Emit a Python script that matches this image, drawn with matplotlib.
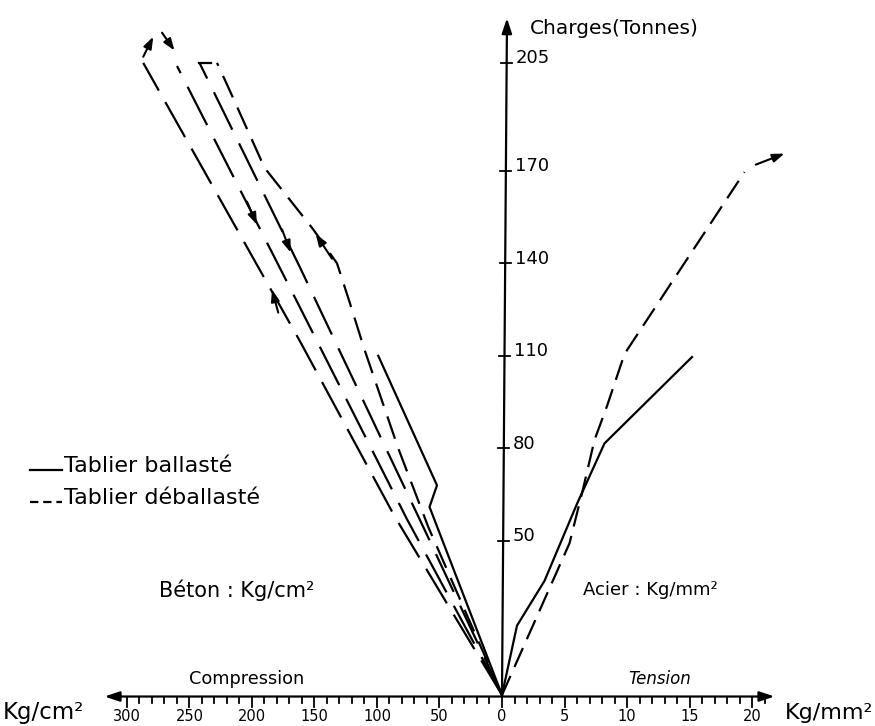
import matplotlib
matplotlib.use("Agg")
import matplotlib.pyplot as plt
import numpy as np

plt.rcParams['font.family'] = ['DejaVu Sans']
plt.rcParams['lines.scale_dashes'] = False

# ---------------- data ----------------
# Left side: concrete compression (kg/cm2) vs load (tonnes), unballasted deck (dashed)
A_load = [0, 58, 115, 205]
A_comp = [0, 86, 162, 287]
B_load = [0, 57, 126, 204]
B_comp = [0, 76, 162, 260]
C_load = [0, 54.5, 139, 205]
C_comp = [0, 63, 162, 242]
D_load = [0, 54.5, 80, 112, 127.5, 140, 151, 171, 198, 205]
D_comp = [0, 59, 83, 110, 122, 132, 151, 190, 220, 228]
# Left side, ballasted deck (solid)
S_load = [0, 61, 68, 110]
S_comp = [0, 58, 52, 99]
# Right side: steel tension (kg/mm2) vs load
Rd_load = [0, 49.2, 67.1, 82.7, 93.7, 110.6, 169.6]
Rd_tens = [0, 5.4, 6.5, 7.4, 8.4, 9.8, 19.4]
Rs_load = [0, 22.5, 37, 62, 81.6, 109.6]
Rs_tens = [0, 1.2, 3.4, 6.0, 8.2, 15.2]

y_ticks = [50, 80, 110, 140, 170, 205]
left_ticks = [300, 250, 200, 150, 100, 50, 0]
right_ticks = [5, 10, 15, 20]

LSCALE = 0.1  # drawing units per kg/cm2 on the compression side

fig = plt.figure(figsize=(8.75, 7.26), dpi=100)
ax = fig.add_axes([0, 0, 1, 1])
ax.set_xlim(-40.16, 29.84)
ax.set_ylim(-10.06, 225.4)
ax.axis('off')

def L(c):
    return [-v * LSCALE for v in c]

lw = 1.6
k = 'black'
ax.plot(L(A_comp), A_load, color=k, lw=lw, dashes=(29, 9.5))
ax.plot(L(B_comp), B_load, color=k, lw=lw, dashes=(31, 11))
ax.plot(L(C_comp), C_load, color=k, lw=lw, dashes=(30, 11))
ax.plot(L(D_comp), D_load, color=k, lw=lw, dashes=(17, 8))
ax.plot([-C_comp[-1] * LSCALE, -D_comp[-1] * LSCALE - 0.5], [C_load[-1], C_load[-1]], color=k, lw=lw)
ax.plot(L(S_comp), S_load, color=k, lw=lw)
ax.plot(Rd_tens, Rd_load, color=k, lw=lw, dashes=(15, 7))
ax.plot(Rs_tens, Rs_load, color=k, lw=lw)

ap = dict(arrowstyle='-|>,head_length=0.7,head_width=0.25', color=k, lw=1.5,
          shrinkA=0, shrinkB=0)
# arrows on the curves
ax.annotate('', xy=(-18.4, 131.5), xytext=(-17.9, 124), arrowprops=ap)
ax.annotate('', xy=(-19.6, 152.5), xytext=(-20.4, 160), arrowprops=ap)
ax.annotate('', xy=(-16.9, 143.5), xytext=(-17.6, 151), arrowprops=ap)
ax.annotate('', xy=(-14.9, 149.5), xytext=(-13.6, 141.5), arrowprops=ap)
ax.annotate('', xy=(-27.9, 213.5), xytext=(-28.7, 207), arrowprops=ap)
ax.annotate('', xy=(-26.2, 209.0), xytext=(-27.2, 214.8), arrowprops=ap)
ax.annotate('', xy=(22.6, 175.6), xytext=(20.3, 172.0), arrowprops=ap)

# axes
axap = dict(arrowstyle='<|-|>,head_length=0.9,head_width=0.3', color=k, lw=1.6,
            shrinkA=0, shrinkB=0)
ax.annotate('', xy=(-31.8, -0.5), xytext=(21.8, -0.5), arrowprops=axap)
yap = dict(arrowstyle='-|>,head_length=0.9,head_width=0.3', color=k, lw=1.6,
           shrinkA=0, shrinkB=0)
ax.annotate('', xy=(0.4, 219.5), xytext=(0, 0), arrowprops=yap)

# x ticks
for t in range(-30, 22):
    major = (t % 5 == 0)
    ln = 3.3 if major else 2.0
    ax.plot([t, t], [-0.5, -0.5 - ln], color=k, lw=1.3)
for v in left_ticks:
    ax.text(-v * LSCALE, -6.9, str(v), ha='center', va='center', fontsize=10.5)
for v in right_ticks:
    ax.text(v, -6.9, str(v), ha='center', va='center', fontsize=10.5)

# y ticks
for v in y_ticks:
    xa = 0.4 * v / 219.5
    ax.plot([xa - 0.45, xa + 0.45], [v, v], color=k, lw=1.3)
    ax.text(xa + 0.75, v + 1.5, str(v), ha='left', va='center', fontsize=13)

# texts
ax.text(2.2, 216.3, 'Charges(Tonnes)', ha='left', va='center', fontsize=14.5)
ax.text(-27.4, 34.1, 'Béton : Kg/cm²', ha='left', va='center', fontsize=15)
ax.text(6.5, 34.1, 'Acier : Kg/mm²', ha='left', va='center', fontsize=13)
ax.text(-20.4, 5.2, 'Compression', ha='center', va='center', fontsize=12.8)
ax.text(12.6, 5.2, 'Tension', ha='center', va='center', fontsize=12, style='italic')
ax.text(-39.9, -5.8, 'Kg/cm²', ha='left', va='center', fontsize=16.5)
ax.text(22.6, -5.8, 'Kg/mm²', ha='left', va='center', fontsize=16)

# legend
ax.plot([-37.8, -35.2], [73.0, 73.0], color=k, lw=lw)
ax.text(-35.0, 74.3, 'Tablier ballasté', ha='left', va='center', fontsize=16)
ax.plot([-37.8, -35.2], [62.5, 62.5], color=k, lw=lw, dashes=(6, 3.5))
ax.text(-35.0, 63.9, 'Tablier déballasté', ha='left', va='center', fontsize=16)

fig.savefig('out.png', dpi=100, facecolor='white')
